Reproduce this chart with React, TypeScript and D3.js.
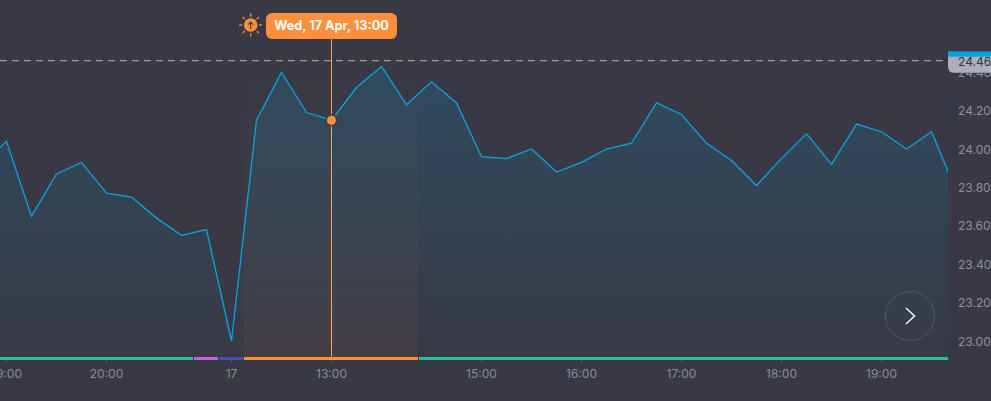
import * as d3 from "d3";

const priceValues = [
  23.92, 24.04, 23.65, 23.87, 23.93, 23.77, 23.75, 23.64, 23.55, 23.58,
  23.0, 24.15, 24.4, 24.19, 24.15, 24.32, 24.43, 24.23, 24.35, 24.24,
  23.96, 23.95, 24.0, 23.88, 23.93, 24.0, 24.03, 24.24, 24.18, 24.03,
  23.94, 23.81, 23.95, 24.08, 23.92, 24.13, 24.09, 24.0, 24.09, 23.78,
];
const yTickValues = [23.0, 23.2, 23.4, 23.6, 23.8, 24.0, 24.2, 24.4];
const xTickLabels = ["19:00", "20:00", "17", "13:00", "15:00", "16:00", "17:00", "18:00", "19:00"];
const xTickIndexes = [1, 5, 10, 14, 20, 24, 28, 32, 36];
const sessionNames = ["green", "purple", "blue", "orange", "green2"];
const sessionStarts = [0, 8.5, 9.5, 10.5, 17.5];
const sessionEnds = [8.5, 9.5, 10.5, 17.5, 39];
const sessionColors = ["#2fbf98", "#c561d8", "#4450ad", "#ff8f3a", "#2fbf98"];
const currentPrice = 24.46;
const hoverIndex = 14;
const hoverLabel = "Wed, 17 Apr, 13:00";

const width = 991;
const height = 401;
const plotRight = 948;
const plotBottom = 357;

const x = d3.scaleLinear().domain([0, 39]).range([-18.5, 956.5]);
const y = d3.scaleLinear().domain([23, 24]).range([341, 149]);

const line = d3.line<number>().x((_, i) => x(i)).y((d) => y(d));
const area = d3.area<number>().x((_, i) => x(i)).y0(plotBottom).y1((d) => y(d));

const font = "Inter, 'Noto Sans', sans-serif";
const bg = "#383945";
const sunRays = d3.range(8).map((i) => (i * Math.PI) / 4);

export default function App() {
  const hx = x(hoverIndex);
  const hy = y(priceValues[hoverIndex]);
  const bandLeft = x(sessionStarts[3]);
  const bandRight = x(sessionEnds[3]);
  const currentY = y(currentPrice);

  return (
    <svg
      width={width}
      height={height}
      style={{ position: "absolute", left: 0, top: 0, display: "block" }}
      fontFamily={font}
    >
      <defs>
        <clipPath id="plot">
          <rect x={0} y={0} width={plotRight} height={height} />
        </clipPath>
        <linearGradient id="areaFill" gradientUnits="userSpaceOnUse" x1={0} x2={0} y1={60} y2={plotBottom}>
          <stop offset="0%" stopColor="#04a5e0" stopOpacity={0.17} />
          <stop offset="100%" stopColor="#04a5e0" stopOpacity={0} />
        </linearGradient>
        <linearGradient id="bandFill" gradientUnits="userSpaceOnUse" x1={0} x2={0} y1={50} y2={plotBottom}>
          <stop offset="0%" stopColor="#ff8f3a" stopOpacity={0} />
          <stop offset="100%" stopColor="#ff8f3a" stopOpacity={0.06} />
        </linearGradient>
      </defs>
      <rect width={width} height={height} fill={bg} />

      <g clipPath="url(#plot)">
        <rect x={bandLeft} y={50} width={bandRight - bandLeft - 1} height={plotBottom - 50} fill="url(#bandFill)" />
        <path d={area(priceValues) ?? ""} fill="url(#areaFill)" />
        <path d={line(priceValues) ?? ""} fill="none" stroke="#04a5e0" strokeWidth={1.3} />
        {sessionNames.map((name, i) => (
          <rect
            key={name}
            x={x(sessionStarts[i])}
            y={plotBottom}
            width={x(sessionEnds[i]) - x(sessionStarts[i]) - 1}
            height={3}
            fill={sessionColors[i]}
          />
        ))}
      </g>

      {xTickIndexes.map((idx, i) => (
        <g key={idx} transform={`translate(${x(idx)},0)`}>
          <line y1={360} y2={362} stroke="#5d5e6a" />
          <text y={377.5} textAnchor="middle" fontSize={12} fill="#8a8b96">
            {xTickLabels[i]}
          </text>
        </g>
      ))}

      {yTickValues.map((v) => (
        <text key={v} x={958} y={y(v) + 4.5} fontSize={12} fill="#8f909b">
          {v.toFixed(2)}
        </text>
      ))}

      <line
        x1={0}
        x2={plotRight}
        y1={currentY}
        y2={currentY}
        stroke="#b3b4bf"
        strokeDasharray="7 5"
      />
      <path
        d={`M${plotRight},${currentY - 9} H${width} V${currentY + 12} H${plotRight + 6} Q${plotRight},${currentY + 12} ${plotRight},${currentY + 6} Z`}
        fill="#adaebb"
      />
      <rect x={plotRight} y={currentY - 9} width={width - plotRight} height={5} fill="#04a5e0" />
      <text x={958} y={y(currentPrice) + 5} fontSize={12} fill="#33343f">
        {currentPrice.toFixed(2)}
      </text>

      <line x1={hx} x2={hx} y1={39} y2={plotBottom} stroke="#ffa25c" />
      <circle cx={hx} cy={hy} r={6.5} fill="#3a3b47" fillOpacity={0.7} />
      <circle cx={hx} cy={hy} r={4.5} fill="#ff8f3a" />

      <rect x={hx - 65.5} y={13} width={131} height={26} rx={6} fill="#ff8f3a" />
      <text x={hx} y={30} textAnchor="middle" fontSize={12.7} fontWeight={700} fill="#ffffff">
        {hoverLabel}
      </text>

      <g transform={`translate(${hx - 80.8},25)`}>
        <circle r={6.8} fill="#ff8f3a" />
        {sunRays.map((a) => (
          <line
            key={a}
            x1={8.3 * Math.cos(a)}
            y1={8.3 * Math.sin(a)}
            x2={11.5 * Math.cos(a)}
            y2={11.5 * Math.sin(a)}
            stroke="#ff8f3a"
            strokeWidth={1.3}
          />
        ))}
        <path d="M0,4 V-3 M-2.6,-0.4 L0,-3 L2.6,-0.4" fill="none" stroke="#3a3b47" strokeWidth={1.1} />
      </g>

      <circle cx={910} cy={316} r={24.5} fill="none" stroke="#53545f" />
      <path d="M906,308 L914.5,316 L906,324" fill="none" stroke="#eef0f5" strokeWidth={1.6} />
    </svg>
  );
}
